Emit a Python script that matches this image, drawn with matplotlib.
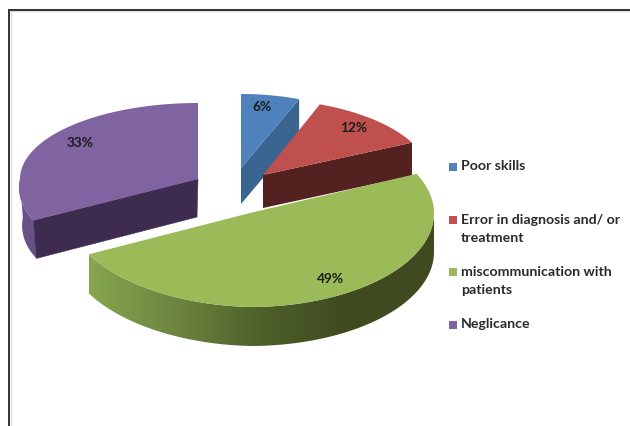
import numpy as np
import matplotlib
matplotlib.use("Agg")
import matplotlib.pyplot as plt
from matplotlib.colors import LinearSegmentedColormap
from matplotlib.patches import Polygon, Rectangle

categories = ["Poor skills", "Error in diagnosis and/ or\ntreatment",
              "miscommunication with\npatients", "Neglicance"]
percent = [6, 12, 49, 33]

top_colors = ["#4f81bd", "#c0504d", "#9bbb59", "#8064a2"]
wall_colors = ["#3a6591", "#53211f", "#5d7034", "#3e2c50"]
rim_colors = ["#41709f", "#8f3c3a", "#86a64f", "#6b5088"]

# Projected geometry of each exploded slice: apex x, apex y, horizontal radius,
# back radius, front radius, extrusion depth, back skew, front skew, tilt,
# sideways drift of the lower edge.
geometry = [
    (241, 168, 158, 74, 80, 36, 0, 0, 0, 0),
    (263, 175, 167, 76, 84, 33, -5, 0, 0, 0),
    (250, 213, 184, 92, 94, 39, 0, 0, 4.5, 0),
    (198, 179, 178, 76, 86, 38, 0, 18, 0, 3),
]
label_xy = [(262, 107), (354, 128), (330, 279), (80, 143)]
legend_y = [167, 220, 272, 325]

plt.rcParams["font.family"] = ["Lato", "DejaVu Sans"]
fig = plt.figure(figsize=(6.3, 4.26), dpi=100, facecolor="white")
ax = fig.add_axes([0, 0, 1, 1])
ax.set_xlim(0, 630)
ax.set_ylim(426, 0)
ax.axis("off")


def rim_point(geo, angle):
    # Angle runs clockwise from twelve o'clock, on the flat top of the slice.
    ax0, ay0, rx, ry_back, ry_front, _, skew_back, skew_front, tilt, _ = geo
    s, c = np.sin(angle), np.cos(angle)
    ry = np.where(c > 0, ry_back, ry_front)
    skew = np.where(c > 0, skew_back, skew_front)
    return ax0 + rx * s + skew * c, ay0 - ry * c + tilt * np.minimum(s, 0)


edges = np.cumsum([0] + percent) / 100 * 2 * np.pi
slices = []
for i, geo in enumerate(geometry):
    theta = np.linspace(edges[i], edges[i + 1], 160)
    x, y = rim_point(geo, theta)
    slices.append((geo, theta, x, y))

# Back slices first so the large front slice overlaps their walls.
for i in [0, 1, 3, 2]:
    geo, theta, x, y = slices[i]
    ax0, ay0, depth, drift = geo[0], geo[1], geo[5], geo[9]

    # Curved outer rim, for the part of the arc that faces the viewer.
    front = (theta >= np.pi / 2) & (theta <= 3 * np.pi / 2)
    if front.any():
        xr, yr = x[front], y[front]
        outline = np.vstack([np.column_stack([xr, yr]),
                             np.column_stack([xr[::-1] + drift, yr[::-1] + depth])])
        if i == 2:
            # The green rim shades from lit on the left to dark on the right.
            cmap = LinearSegmentedColormap.from_list(
                "rim", ["#86a64f", "#6d8540", "#4e6029", "#3f4a20", "#3f4a20"])
            shape = Polygon(outline, closed=True, fc="none", ec="none", zorder=4)
            ax.add_patch(shape)
            img = ax.imshow(np.linspace(0, 1, 256)[None, :], cmap=cmap, aspect="auto",
                            extent=[xr.min(), xr.max(), 426, 0], zorder=4)
            img.set_clip_path(shape)
            ax.set_xlim(0, 630)
            ax.set_ylim(426, 0)
        else:
            ax.add_patch(Polygon(outline, closed=True, fc=rim_colors[i], ec="none", zorder=i + 1))

    # Flat cut walls exposed by pulling the slices apart.
    if i == 0 or i == 1:
        wall = [(ax0, ay0), (x[-1], y[-1]), (x[-1], y[-1] + depth), (ax0, ay0 + depth)]
        ax.add_patch(Polygon(wall, closed=True, fc=wall_colors[i], ec="none", zorder=i + 1))
    if i == 3:
        wall = [(ax0, ay0), (x[0], y[0]), (x[0] + drift, y[0] + depth), (ax0 - 1, ay0 + depth)]
        ax.add_patch(Polygon(wall, closed=True, fc=wall_colors[i], ec=wall_colors[i], lw=0.4,
                             zorder=i + 1.2))

    # Flat top of the slice.
    face = np.vstack([[ax0, ay0], np.column_stack([x, y])])
    z = 5 if i == 2 else i + 1.5
    ax.add_patch(Polygon(face, closed=True, fc=top_colors[i], ec="none", zorder=z))

for value, (lx, ly) in zip(percent, label_xy):
    ax.text(lx, ly, f"{value}%", ha="center", va="center", fontsize=9.8,
            fontweight="bold", color="#1a1a1a", zorder=8)

for name, color, ly in zip(categories, top_colors, legend_y):
    ax.add_patch(Rectangle((448.5, ly - 4), 8, 8, fc=color, ec="none", zorder=8))
    ax.text(461, ly - 6.5, name, ha="left", va="top", fontsize=10.2, fontweight="bold",
            color="#2a2a2a", linespacing=1.6, zorder=8)

# Thin frame on the top and left, with its faint inner shadow.
ax.plot([8.5, 8.5, 630], [426, 9.5, 9.5], color="#222222", lw=1.3, zorder=9,
        solid_joinstyle="miter")
ax.plot([10.5, 10.5, 630], [426, 11, 11], color="#dcdcdc", lw=1, zorder=8.5,
        solid_joinstyle="miter")

fig.savefig("out.png", dpi=100)
